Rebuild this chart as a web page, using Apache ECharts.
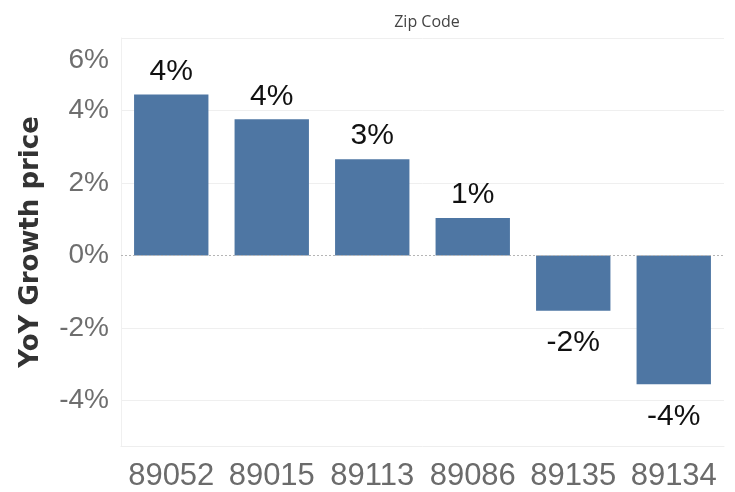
<!DOCTYPE html>
<html>
<head>
<meta charset="utf-8">
<script src="https://cdn.jsdelivr.net/npm/echarts@6/dist/echarts.min.js"></script>
<style>
  html, body { margin: 0; padding: 0; background: #fff; }
  #chart { width: 735px; height: 492px; }
</style>
</head>
<body>
<div id="chart"></div>
<script>
// Year-over-year price growth by zip code (percent)
const zipCodes = ['89052', '89015', '89113', '89086', '89135', '89134'];
const yoyGrowth = [4.44, 3.76, 2.66, 1.04, -1.52, -3.55];
const yTickValues = [-4, -2, 0, 2, 4, 6];
const gridValues = [-4, -2, 2, 4, 6];

const chart = echarts.init(document.getElementById('chart'), null, { renderer: 'canvas' });

const pctLabel = v => (v).toFixed(0) + '%';

// negative bars carry their label a little further below the bar end
const barData = yoyGrowth.map(v => (v < 0 ? { value: v, label: { distance: 17 } } : { value: v }));

chart.setOption({
  animation: false,
  backgroundColor: '#ffffff',
  title: {
    text: 'Zip Code',
    left: 422,
    textAlign: 'center',
    top: 9,
    textStyle: { fontFamily: 'Open Sans', fontSize: 16, fontWeight: 'normal', color: '#444' }
  },
  grid: { left: 121, right: 11, top: 38, bottom: 45, containLabel: false },
  xAxis: {
    type: 'category',
    data: zipCodes,
    axisLine: { show: true, onZero: false, lineStyle: { color: '#eeeeee', width: 1 } },
    axisTick: { show: false },
    axisLabel: {
      interval: 0,
      hideOverlap: false,
      margin: 15,
      fontFamily: 'Liberation Sans',
      fontSize: 31,
      color: '#6b6b6b'
    },
    splitLine: { show: false }
  },
  yAxis: {
    type: 'value',
    min: -5.25,
    max: 6,
    name: 'YoY Growth price',
    nameLocation: 'middle',
    nameRotate: 90,
    nameGap: 77,
    nameTextStyle: { fontFamily: 'DejaVu Sans', fontSize: 26, fontWeight: 'bold', color: '#333' },
    axisLine: { show: true, lineStyle: { color: '#f0f0f0', width: 1 } },
    axisTick: { show: false, customValues: yTickValues },
    axisLabel: {
      customValues: yTickValues,
      margin: 12,
      fontFamily: 'Liberation Sans',
      fontSize: 28,
      color: '#6e6e6e',
      formatter: v => v === 6 ? '{top|6%}' : v + '%',
      rich: {
        top: { padding: [44, 0, 0, 0], fontFamily: 'Liberation Sans', fontSize: 28, color: '#6e6e6e' }
      }
    },
    splitLine: { show: false }
  },
  series: [
    {
      // light horizontal gridlines behind the bars
      type: 'line',
      data: [],
      z: 0,
      silent: true,
      markLine: {
        silent: true,
        symbol: 'none',
        z: 0,
        label: { show: false },
        lineStyle: { color: '#efefef', width: 1, type: 'solid' },
        data: gridValues.map(v => ({ yAxis: v }))
      }
    },
    {
      type: 'bar',
      data: barData,
      barWidth: '74%',
      z: 2,
      itemStyle: { color: '#4e76a3' },
      label: {
        show: true,
        position: 'outside',
        distance: 8,
        fontFamily: 'Liberation Sans',
        fontSize: 30,
        color: '#111',
        formatter: p => pctLabel(p.value)
      },
      markLine: {
        silent: true,
        symbol: 'none',
        label: { show: false },
        lineStyle: { color: '#b5b5b5', width: 1, type: [2, 2] },
        data: [{ yAxis: 0 }]
      }
    }
  ]
});
</script>
</body>
</html>
